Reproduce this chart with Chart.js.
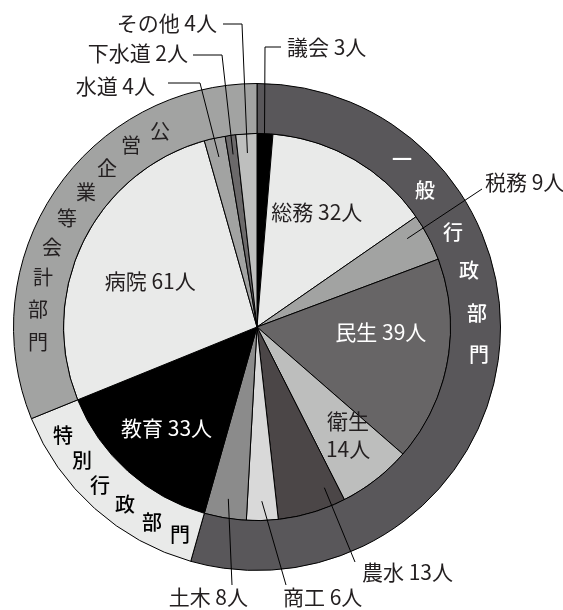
<!DOCTYPE html>
<html>
<head>
<meta charset="utf-8">
<script src="https://cdn.jsdelivr.net/npm/chart.js@4.4.1/dist/chart.umd.min.js"></script>
<style>
  body { margin: 0; background: #fff; }
</style>
</head>
<body>
<canvas id="chart" width="563" height="610"></canvas>
<script>
// 部門別職員数
const categories = ["議会", "総務", "税務", "民生", "衛生", "農水", "商工", "土木", "教育", "病院", "水道", "下水道", "その他"];
const staff = [3, 32, 9, 39, 14, 13, 6, 8, 33, 61, 4, 2, 4];
const groups = ["一般行政部門", "特別行政部門", "公営企業等会計部門"];
const groupStaff = [124, 33, 71];

const sliceColors = ["#000000", "#e9eae9", "#a2a3a2", "#676566", "#bdbebd", "#4b4647",
  "#d9d9d9", "#8b8b8b", "#000000", "#e9eae9", "#a2a3a2", "#6b696a", "#bebfbe"];
const groupColors = ["#59575a", "#e9eae9", "#a2a3a2"];
const ink = "#231f20";
const font = '"Noto Sans CJK JP", "Noto Sans", sans-serif';

// labels inside the slices: index, angle fraction, radius fraction, colour, two lines?
const insideLabels = [
  { i: 1, t: 0.45, r: 0.67, color: ink },
  { i: 3, t: 0.37, r: 0.64, color: "#ffffff" },
  { i: 4, t: 0.4, r: 0.73, color: ink, split: true },
  { i: 8, t: 0.5, r: 0.7, color: "#ffffff" },
  { i: 9, t: 0.47, r: 0.6, color: ink },
];

// labels outside with leader lines
const outsideLabels = [
  { i: 0, t: 0.5, r: 0.93, path: [[265, 47], [281, 47]], x: 287, y: 47, align: "left" },
  { i: 12, t: 0.5, r: 0.9, path: [[242, 24], [223, 24]], x: 217, y: 23, align: "right" },
  { i: 11, t: 0.5, r: 0.9, path: [[222, 55], [193, 55]], x: 188, y: 53, align: "right" },
  { i: 10, t: 0.5, r: 0.9, path: [[200, 83], [168, 83]], x: 155, y: 86, align: "right" },
  { i: 2, t: 0.3, r: 0.9, path: [[482, 189]], x: 485, y: 182, align: "left" },
  { i: 5, t: 0.2, r: 0.9, path: [[355, 562]], x: 362, y: 572, align: "left" },
  { i: 6, t: 0.5, r: 0.9, path: [[286, 585]], x: 283, y: 597, align: "left" },
  { i: 7, t: 0.5, r: 0.9, path: [[232, 585]], x: 248, y: 597, align: "right" },
];

// characters written along the outer ring
const ringText = [
  { g: 0, color: "#ffffff", weight: "500", pos: [[402, 159], [425, 190], [453, 232], [469, 270], [477, 313], [479, 354]] },
  { g: 1, color: "#000000", weight: "500", pos: [[63, 435], [82, 460], [100, 485], [125, 504], [152, 522], [180, 534]] },
  { g: 2, color: ink, weight: "normal", pos: [[160, 131], [131, 145], [107, 168], [86, 192], [67, 218], [52, 247], [43, 277], [38, 309], [38, 342]] },
];

function pointOn(arc, t, r) {
  const a = arc.startAngle + (arc.endAngle - arc.startAngle) * t;
  return [arc.x + r * Math.cos(a), arc.y + r * Math.sin(a)];
}

const labelPlugin = {
  id: "labels",
  afterDatasetsDraw(chart) {
    const ctx = chart.ctx;
    const arcs = chart.getDatasetMeta(1).data;
    ctx.save();
    ctx.font = "21px " + font;
    ctx.textBaseline = "middle";

    insideLabels.forEach(function (l) {
      const arc = arcs[l.i];
      const p = pointOn(arc, l.t, arc.outerRadius * l.r);
      ctx.fillStyle = l.color;
      ctx.textAlign = "center";
      if (l.split) {
        ctx.fillText(categories[l.i], p[0], p[1] - 14);
        ctx.fillText(staff[l.i] + "人", p[0], p[1] + 14);
      } else {
        ctx.fillText(categories[l.i] + " " + staff[l.i] + "人", p[0], p[1]);
      }
    });

    ctx.strokeStyle = "#000";
    ctx.lineWidth = 1;
    outsideLabels.forEach(function (l) {
      const arc = arcs[l.i];
      const p = pointOn(arc, l.t, arc.outerRadius * l.r);
      ctx.beginPath();
      ctx.moveTo(p[0], p[1]);
      l.path.forEach(function (q) { ctx.lineTo(q[0], q[1]); });
      ctx.stroke();
      ctx.fillStyle = ink;
      ctx.textAlign = l.align;
      ctx.fillText(categories[l.i] + " " + staff[l.i] + "人", l.x, l.y);
    });

    ctx.textAlign = "center";
    ringText.forEach(function (g) {
      ctx.fillStyle = g.color;
      ctx.font = g.weight + " 20px " + font;
      const chars = Array.from(groups[g.g]);
      chars.forEach(function (c, k) {
        ctx.fillText(c, g.pos[k][0], g.pos[k][1]);
      });
    });
    ctx.restore();
  },
};

var canvasElement = document.getElementById("chart");
var config = {
  type: "doughnut",
  data: {
    labels: categories,
    datasets: [
      {
        label: "部門",
        data: groupStaff,
        backgroundColor: groupColors,
        borderColor: "#000",
        borderWidth: 1,
        weight: 50,
      },
      {
        label: "職員数",
        data: staff,
        backgroundColor: sliceColors,
        borderColor: "#000",
        borderWidth: 1,
        weight: 194,
      },
    ],
  },
  options: {
    responsive: false,
    animation: false,
    events: [],
    cutout: 0,
    layout: { padding: { left: 13, right: 62, top: 83, bottom: 39 } },
    plugins: {
      legend: { display: false },
      tooltip: { enabled: false },
    },
  },
  plugins: [labelPlugin],
};
var staffChart = new Chart(canvasElement, config);
</script>
</body>
</html>
